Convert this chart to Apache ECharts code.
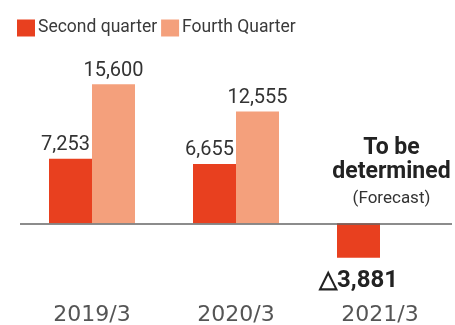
<!DOCTYPE html>
<html>
<head>
<meta charset="utf-8">
<script src="https://cdn.jsdelivr.net/npm/echarts@6/dist/echarts.min.js"></script>
<style>
html,body{margin:0;padding:0;background:#fff;}
#chart{width:455px;height:325px;}
</style>
</head>
<body>
<div id="chart"></div>
<script>
const categories = ['2019/3', '2020/3', '2021/3'];
const seriesNames = ['Second quarter', 'Fourth Quarter'];
const secondQuarter = [7253, 6655, -3881];
const fourthQuarter = [15600, 12555, null];
const forecastCategory = '2021/3';
const forecastAnchor = 5400;
const forecastText = ['To be', 'determined', '(Forecast)'];

const NARROW = 'Roboto, "Liberation Sans", sans-serif';
const fmt = v => Math.abs(v).toLocaleString('en-US');

const chart = echarts.init(document.getElementById('chart'), null, {renderer: 'canvas'});

const secondData = secondQuarter.map(v => v < 0 ? {
  value: v,
  label: {position: 'bottom', distance: 11, offset: [0, 0], fontWeight: 'bold', fontSize: 24, color: '#222',
    formatter: p => '△' + fmt(p.value)}
} : v);

chart.setOption({
  animation: false,
  backgroundColor: '#fff',
  legend: {
    left: 17, top: 19, padding: 0,
    itemWidth: 18, itemHeight: 17, itemGap: 4,
    icon: 'rect',
    textStyle: {fontFamily: NARROW, fontSize: 17.5, color: '#3a3a3a', padding: [0, 0, 0, -2]},
    data: seriesNames
  },
  grid: {left: 20, right: 3, top: 63, bottom: 21.6, outerBoundsMode: 'none', containLabel: false},
  xAxis: {
    type: 'category',
    data: categories,
    axisLine: {show: false},
    axisTick: {show: false},
    splitLine: {show: false},
    axisLabel: {fontFamily: '"DejaVu Sans", sans-serif', fontSize: 22, color: '#555', margin: 1}
  },
  yAxis: {
    type: 'value', min: -9000, max: 18000, show: false,
    splitLine: {show: false}
  },
  series: [
    {
      name: seriesNames[0], type: 'bar', data: secondData,
      barWidth: 43, barGap: '0%',
      itemStyle: {color: '#e8401f'},
      label: {show: true, position: 'top', distance: 4, offset: [-5, 0],
        fontFamily: NARROW, fontSize: 20, color: '#333', formatter: p => fmt(p.value)},
      markLine: {
        silent: true, symbol: ['none', 'none'],
        label: {show: false},
        lineStyle: {color: '#666', width: 1.5, type: 'solid'},
        data: [{yAxis: 0}]
      }
    },
    {
      name: seriesNames[1], type: 'bar', data: fourthQuarter,
      barWidth: 43, barGap: '0%',
      itemStyle: {color: '#f4a07c'},
      label: {show: true, position: 'top', distance: 3,
        fontFamily: NARROW, fontSize: 20, color: '#333', formatter: p => fmt(p.value)},
      markPoint: {
        silent: true,
        symbol: 'rect', symbolSize: 1,
        itemStyle: {color: 'rgba(0,0,0,0)'},
        label: {
          show: true, position: 'inside', offset: [-10, 0],
          formatter: '{a|' + forecastText[0] + '}\n{a|' + forecastText[1] + '}\n{b|' + forecastText[2] + '}',
          rich: {
            a: {fontFamily: NARROW, fontSize: 23, fontWeight: 'bold', color: '#222', lineHeight: 24, align: 'center'},
            b: {fontFamily: NARROW, fontSize: 17, color: '#333', lineHeight: 29, align: 'center'}
          }
        },
        data: [{coord: [forecastCategory, forecastAnchor]}]
      }
    }
  ]
});
</script>
</body>
</html>
